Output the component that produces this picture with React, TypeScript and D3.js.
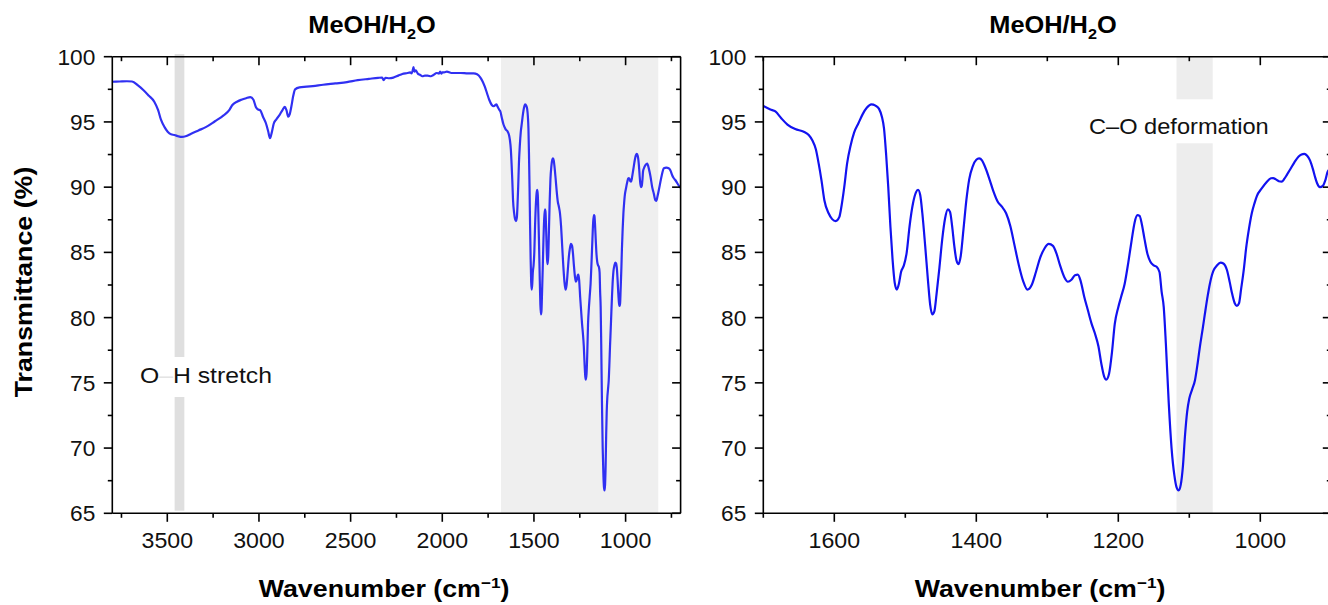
import React from 'react';
import * as d3 from 'd3';

// ---- Spectrum data (wavenumber in cm^-1, transmittance in %) ----
const highWn = [3800, 3760, 3720, 3692, 3660, 3631, 3600, 3571, 3550, 3534, 3515, 3498, 3480, 3461, 3440, 3420, 3400, 3370, 3330, 3290, 3240, 3193, 3160, 3145, 3120, 3096, 3070, 3047, 3030, 3017, 3005, 2993, 2978, 2962, 2950, 2940, 2930, 2920, 2905, 2889, 2870, 2859, 2850, 2840, 2832, 2823, 2813, 2803, 2779, 2740, 2706, 2650, 2584, 2520, 2461, 2400, 2350, 2328, 2320, 2310, 2290, 2267, 2240, 2218, 2190, 2175, 2168, 2162, 2157, 2152, 2145, 2133, 2120, 2109, 2095, 2080, 2062, 2048, 2030, 2018, 2012, 2005, 2000, 1990, 1975, 1950, 1900, 1860, 1829, 1810, 1792, 1780, 1768, 1756, 1744, 1730, 1719, 1710, 1704];
const highT = [98.08, 98.1, 98.12, 98.1, 97.8, 97.45, 97.0, 96.55, 95.9, 95.15, 94.6, 94.25, 94.05, 94.0, 93.9, 93.85, 93.9, 94.1, 94.35, 94.6, 95.05, 95.5, 95.95, 96.3, 96.55, 96.7, 96.82, 96.9, 96.7, 96.15, 95.95, 95.9, 95.4, 94.9, 94.3, 93.75, 94.2, 94.84, 95.2, 95.5, 95.95, 96.15, 95.9, 95.4, 95.6, 96.2, 97.0, 97.5, 97.65, 97.7, 97.75, 97.85, 97.95, 98.05, 98.2, 98.3, 98.38, 98.4, 98.2, 98.38, 98.35, 98.4, 98.55, 98.67, 98.75, 98.8, 98.72, 98.9, 99.2, 98.85, 98.95, 98.7, 98.6, 98.5, 98.55, 98.55, 98.5, 98.6, 98.75, 98.7, 98.85, 98.7, 98.8, 98.8, 98.85, 98.75, 98.75, 98.72, 98.72, 98.65, 98.4, 98.1, 97.7, 97.2, 96.7, 96.3, 96.2, 96.3, 96.35];

const fingerWn = [1700, 1690, 1683, 1675, 1666, 1655, 1643, 1636, 1631, 1626, 1622, 1618, 1614, 1608, 1603, 1598, 1593, 1590, 1586, 1582, 1577, 1572, 1566, 1560, 1554, 1548, 1542, 1537, 1533, 1530, 1527, 1524, 1521, 1518, 1515, 1512, 1509, 1506, 1502, 1498, 1494, 1489, 1485, 1482, 1479, 1476, 1472, 1468, 1465, 1462, 1459, 1456, 1452, 1448, 1444, 1440, 1437, 1434, 1431, 1428, 1425, 1422, 1418, 1414, 1410, 1405, 1400, 1396, 1392, 1388, 1382, 1376, 1370, 1364, 1358, 1352, 1346, 1340, 1334, 1328, 1322, 1316, 1310, 1304, 1298, 1292, 1287, 1282, 1276, 1271, 1266, 1261, 1257, 1253, 1248, 1243, 1238, 1233, 1228, 1224, 1220, 1217, 1213, 1209, 1205, 1200, 1196, 1191, 1186, 1181, 1177, 1173, 1170, 1167, 1163, 1159, 1155, 1150, 1146, 1142, 1139, 1136, 1133, 1129, 1125, 1121, 1118, 1115, 1112, 1109, 1106, 1103, 1100, 1096, 1092, 1088, 1085, 1081, 1078, 1074, 1071, 1066, 1061, 1056, 1052, 1047, 1043, 1040, 1036, 1033, 1030, 1027, 1023, 1020, 1016, 1012, 1008, 1005, 998, 991, 985, 982, 978, 974, 970, 966, 962, 958, 952, 946, 942, 938, 934, 930, 926, 923, 920, 916, 912, 908, 905, 900];
const fingerT = [96.22, 95.95, 95.8, 95.3, 94.8, 94.45, 94.25, 94.0, 93.6, 92.9, 91.8, 90.5, 89.0, 88.0, 87.55, 87.4, 87.7, 88.5, 90.0, 91.8, 93.2, 94.2, 94.9, 95.6, 96.1, 96.35, 96.25, 96.0, 95.4, 94.5, 92.5, 90.0, 87.0, 84.5, 82.7, 82.15, 82.6, 83.5, 84.0, 85.0, 87.0, 88.8, 89.6, 89.8, 89.4, 88.0, 85.5, 82.8, 81.0, 80.25, 80.5, 81.8, 83.8, 86.0, 87.6, 88.3, 88.1, 87.0, 85.5, 84.4, 84.1, 84.7, 86.8, 89.0, 90.6, 91.6, 92.1, 92.2, 92.05, 91.6, 90.7, 89.7, 88.9, 88.5, 88.0, 87.0, 85.5, 84.0, 82.8, 82.15, 82.5, 83.5, 84.6, 85.3, 85.65, 85.5, 84.9, 84.0, 83.1, 82.75, 82.9, 83.25, 83.3, 82.8, 81.6, 80.6, 79.6, 78.8, 77.8, 76.5, 75.5, 75.25, 75.7, 77.3, 79.5, 80.8, 81.6, 82.6, 84.2, 86.0, 87.3, 87.85, 87.8, 87.2, 86.0, 84.9, 84.3, 84.0, 83.9, 83.5, 82.0, 80.8, 78.0, 73.5, 70.0, 67.9, 67.0, 66.75, 67.2, 68.6, 71.0, 72.8, 73.8, 74.5, 75.2, 76.6, 77.8, 79.2, 80.3, 81.7, 82.6, 83.6, 84.0, 84.22, 84.15, 83.65, 82.7, 81.9, 81.1, 80.9, 81.1, 82.2, 83.8, 85.3, 86.8, 88.0, 88.8, 89.3, 89.9, 90.4, 90.68, 90.7, 90.6, 90.45, 90.42, 90.65, 91.0, 91.35, 91.9, 92.35, 92.5, 92.55, 92.4, 92.05, 91.4, 90.8, 90.3, 90.0, 90.1, 90.6, 91.2, 91.45];

const tailWn = [891, 882, 873, 864, 855, 846, 838, 833, 826, 815, 803, 791, 778, 765, 756, 747, 738, 729, 718, 706, 700];
const tailT = [91.7, 91.8, 91.4, 90.8, 90.0, 89.5, 89.0, 88.95, 89.3, 90.05, 90.9, 91.45, 91.5, 91.45, 91.3, 90.95, 90.7, 90.55, 90.3, 90.05, 89.95];

// ---- Ticks ----
const yMajor = [65, 70, 75, 80, 85, 90, 95, 100];
const yMinor = [67.5, 72.5, 77.5, 82.5, 87.5, 92.5, 97.5];
const leftXMajor = [3500, 3000, 2500, 2000, 1500, 1000];
const leftXMinor = [3750, 3250, 2750, 2250, 1750, 1250, 750];
const rightXMajor = [1600, 1400, 1200, 1000];
const rightXMinor = [1700, 1500, 1300, 1100, 900];

// ---- Highlighted bands: [from, to, colour] ----
const leftBandOH = [3460, 3407];
const leftBandFinger = [1680, 822];
const rightBandCO = [1118, 1067];

const title = 'MeOH/H';
const FONT = "'Liberation Sans', Arial, Helvetica, sans-serif";

const allWn = [...highWn, ...fingerWn, ...tailWn];
const allT = [...highT, ...fingerT, ...tailT];
const fullSpectrum = allWn.map((w, i) => ({ w, t: allT[i] }));
const zoomSpectrum = [...fingerWn, ...tailWn].map((w, i) => ({ w, t: [...fingerT, ...tailT][i] }));

const Y_TOP = 56.7;
const Y_BOT = 513.3;
const MAJ = 8.5;
const MIN = 4.5;

function Panel(props: {
  id: string;
  domain: [number, number];
  range: [number, number];
  major: number[];
  minor: number[];
  data: { w: number; t: number }[];
  color: string;
  titleX: number;
  labelX: number;
  children?: (x: d3.ScaleLinear<number, number>, y: d3.ScaleLinear<number, number>) => React.ReactNode;
}) {
  const { id, domain, range, major, minor, data, color, titleX, labelX } = props;
  const x = d3.scaleLinear().domain(domain).range(range);
  const y = d3.scaleLinear().domain([65, 100]).range([Y_BOT, Y_TOP]);
  const line = d3
    .line<{ w: number; t: number }>()
    .x((d) => x(d.w))
    .y((d) => y(d.t))
    .curve(d3.curveMonotoneX);
  const [x0, x1] = range;
  return (
    <g>
      <defs>
        <clipPath id={id}>
          <rect x={x0} y={Y_TOP - 3} width={x1 - x0} height={Y_BOT - Y_TOP + 3} />
        </clipPath>
      </defs>
      {props.children ? props.children(x, y) : null}
      <path d={line(data) || ''} fill="none" stroke={color} strokeWidth={2.2} clipPath={`url(#${id})`} />
      {/* frame */}
      <g stroke="#000" strokeWidth={1.6} fill="none">
        <line x1={x0} x2={x1} y1={Y_BOT} y2={Y_BOT} />
        <line x1={x0} x2={x1} y1={Y_TOP} y2={Y_TOP} />
        <line x1={x0} x2={x0} y1={Y_TOP} y2={Y_BOT} />
        <line x1={x1} x2={x1} y1={Y_TOP} y2={Y_BOT} />
        {major.map((v) => (
          <g key={'xm' + v}>
            <line x1={x(v)} x2={x(v)} y1={Y_BOT} y2={Y_BOT + MAJ} />
            <line x1={x(v)} x2={x(v)} y1={Y_TOP} y2={Y_TOP + MAJ} />
          </g>
        ))}
        {minor.map((v) => (
          <g key={'xn' + v}>
            <line x1={x(v)} x2={x(v)} y1={Y_BOT} y2={Y_BOT + MIN} />
            <line x1={x(v)} x2={x(v)} y1={Y_TOP} y2={Y_TOP + MIN} />
          </g>
        ))}
        {yMajor.map((v) => (
          <g key={'ym' + v}>
            <line x1={x0 - MAJ} x2={x0} y1={y(v)} y2={y(v)} />
            <line x1={x1 - MAJ} x2={x1} y1={y(v)} y2={y(v)} />
          </g>
        ))}
        {yMinor.map((v) => (
          <g key={'yn' + v}>
            <line x1={x0 - MIN} x2={x0} y1={y(v)} y2={y(v)} />
            <line x1={x1 - MIN} x2={x1} y1={y(v)} y2={y(v)} />
          </g>
        ))}
      </g>
      {/* tick labels */}
      <g fontFamily={FONT} fontSize={22.5} fill="#111">
        {major.map((v) => (
          <text key={'xl' + v} textAnchor="middle" transform={`translate(${x(v)},548) scale(1.03,1)`}>
            {v}
          </text>
        ))}
        {yMajor.map((v) => (
          <text key={'yl' + v} textAnchor="end" transform={`translate(${x0 - 17},${y(v) + 8}) scale(1.01,1)`}>
            {v}
          </text>
        ))}
      </g>
      {/* title */}
      <text
        fontFamily={FONT}
        fontWeight="bold"
        fontSize={23.5}
        textAnchor="middle"
        transform={`translate(${titleX},33.3) scale(1.08,1)`}
      >
        {title}
        <tspan fontSize={15} dy={5.5}>2</tspan>
        <tspan dy={-5.5}>O</tspan>
      </text>
      {/* x label */}
      <text
        fontFamily={FONT}
        fontWeight="bold"
        fontSize={23.5}
        textAnchor="middle"
        transform={`translate(${labelX},597) scale(1.14,1)`}
      >
        Wavenumber (cm
        <tspan fontSize={15} dy={-9}>−1</tspan>
        <tspan dy={9}>)</tspan>
      </text>
    </g>
  );
}

export default function App() {
  return (
    <div style={{ position: 'fixed', left: 0, top: 0, width: 1328, height: 605, background: '#fff' }}>
      <svg width={1328} height={605} viewBox="0 0 1328 605" style={{ display: 'block' }}>
        <rect x={0} y={0} width={1328} height={605} fill="#fff" />
        {/* Y axis label */}
        <text
          fontFamily={FONT}
          fontWeight="bold"
          fontSize={23.5}
          textAnchor="middle"
          transform={`translate(32,282) rotate(-90) scale(1.14,1)`}
        >
          Transmittance (%)
        </text>

        <Panel
          id="clipL"
          domain={[3800, 700]}
          range={[112.3, 680.6]}
          major={leftXMajor}
          minor={leftXMinor}
          data={fullSpectrum}
          color="#3030f2"
          titleX={372}
          labelX={384}
        >
          {(x, y) => (
            <g>
              <rect
                x={x(leftBandFinger[0])}
                width={x(leftBandFinger[1]) - x(leftBandFinger[0])}
                y={y(100)}
                height={y(65) - y(100)}
                fill="#efefef"
              />
              <rect
                x={x(leftBandOH[0])}
                width={x(leftBandOH[1]) - x(leftBandOH[0])}
                y={y(100.2)}
                height={357 - y(100.2)}
                fill="#dfdfdf"
              />
              <rect
                x={x(leftBandOH[0])}
                width={x(leftBandOH[1]) - x(leftBandOH[0])}
                y={397}
                height={y(65.2) - 397}
                fill="#dfdfdf"
              />
              <text fontFamily={FONT} fontSize={22.5} fill="#111" transform={`translate(140,383.3) scale(1.1,1)`}>
                O<tspan fill="#e4e4e4">–</tspan>H stretch
              </text>
            </g>
          )}
        </Panel>

        <Panel
          id="clipR"
          domain={[1700, 900]}
          range={[763.3, 1331.3]}
          major={rightXMajor}
          minor={rightXMinor}
          data={zoomSpectrum}
          color="#1212f0"
          titleX={1053}
          labelX={1040}
        >
          {(x, y) => (
            <g>
              <rect
                x={x(rightBandCO[0])}
                width={x(rightBandCO[1]) - x(rightBandCO[0])}
                y={y(100)}
                height={99.3 - y(100)}
                fill="#ededed"
              />
              <rect
                x={x(rightBandCO[0])}
                width={x(rightBandCO[1]) - x(rightBandCO[0])}
                y={143.3}
                height={y(65) - 143.3}
                fill="#ededed"
              />
              <text fontFamily={FONT} fontSize={22.5} fill="#111" transform={`translate(1089,134) scale(1.05,1)`}>
                C–O deformation
              </text>
            </g>
          )}
        </Panel>
      </svg>
    </div>
  );
}
